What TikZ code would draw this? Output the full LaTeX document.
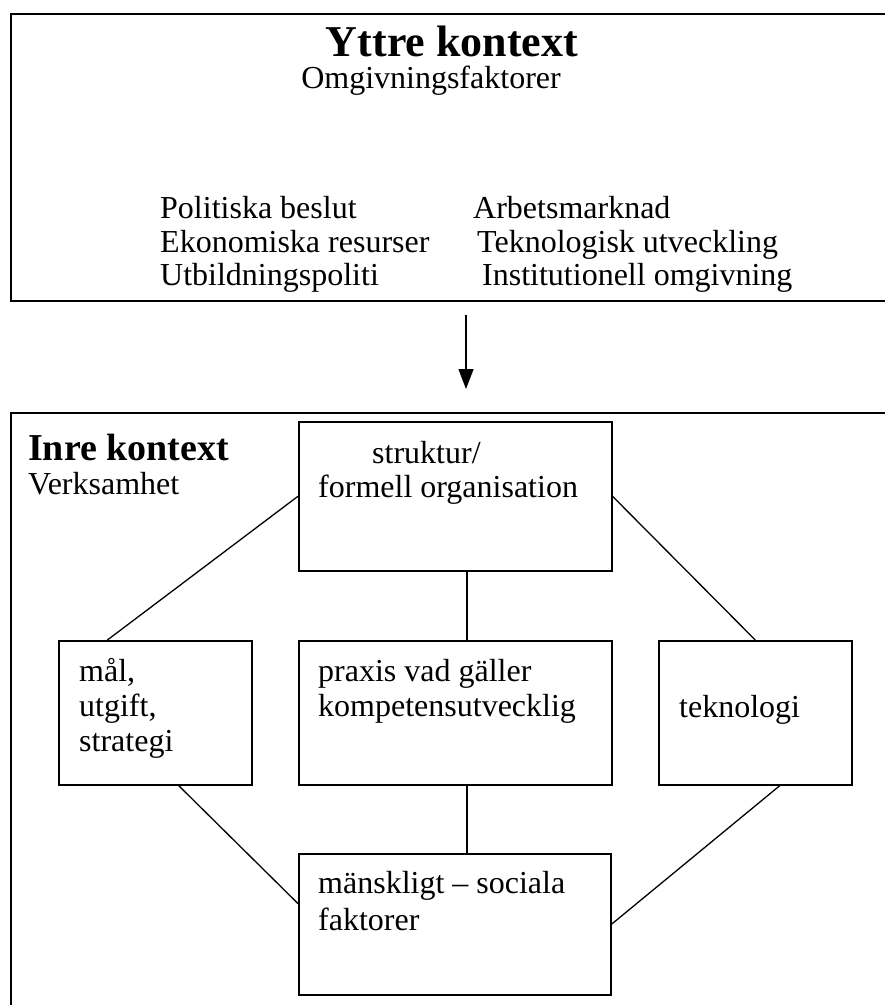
\documentclass[tikz,border=0pt]{standalone}
\usepackage{fontspec}
\setmainfont{Liberation Serif}
\usetikzlibrary{arrows.meta,calc}
\begin{document}
\begin{tikzpicture}[x=1pt,y=-1pt,
  box/.style={draw,line width=1.5pt,inner sep=0pt,anchor=north west},
  outer/.style={draw,line width=2pt,inner sep=0pt,anchor=north west},
  txt/.style={anchor=base west,inner sep=0pt,font=\fontsize{32}{36.8}\selectfont},
  link/.style={line width=1.3pt}]
\useasboundingbox (0,0) rectangle (885,1005);
\clip (0,0) rectangle (885,1005);
\fill[white] (0,0) rectangle (885,1005);
% outer boxes
\node[outer,line width=2.4pt,minimum width=900pt,minimum height=287pt] (ytt) at (10,13) {};
\node[outer,line width=1.8pt,minimum width=900pt,minimum height=620pt] (inre) at (10,412) {};
% top texts
\node[anchor=base,inner sep=0pt,font=\fontsize{44}{50}\selectfont\bfseries] (ytitle) at (452,56) {Yttre kontext};
\node[anchor=base,inner sep=0pt,font=\fontsize{32}{36.8}\selectfont] (ysub) at (431,88) {Omgivningsfaktorer};
\node[txt] (p1) at (160,218) {Politiska beslut};
\node[txt] (p2) at (160,252) {Ekonomiska resurser};
\node[txt] (p3) at (160,285) {Utbildningspoliti};
\node[txt] (q1) at (473,218) {Arbetsmarknad};
\node[txt] (q2) at (477,252) {Teknologisk utveckling};
\node[txt] (q3) at (482,285) {Institutionell omgivning};
% arrow
\coordinate (a1) at (466,315);
\coordinate (a2) at (466,389);
\draw[line width=1.4pt,-{Triangle[width=15pt,length=20pt]}] (a1) -- (a2);
% inner title
\node[anchor=base west,inner sep=0pt,font=\fontsize{38}{43}\selectfont\bfseries] (ititle) at (28,460) {Inre kontext};
\node[txt] (isub) at (28,494) {Verksamhet};
% inner boxes
\node[box,minimum width=313pt,minimum height=149pt] (struk) at (298,421) {};
\node[box,minimum width=193pt,minimum height=144pt] (mal) at (58,640) {};
\node[box,minimum width=313pt,minimum height=144pt] (praxis) at (298,640) {};
\node[box,minimum width=193pt,minimum height=144pt] (tekn) at (658,640) {};
\node[box,minimum width=312pt,minimum height=141pt] (mansk) at (298,853) {};
% box texts
\node[txt] (s1) at (372,463) {struktur/};
\node[txt] (s2) at (318,497) {formell organisation};
\node[txt] (m1) at (79,681) {mål,};
\node[txt] (m2) at (79,716) {utgift,};
\node[txt] (m3) at (79,751) {strategi};
\node[txt] (x1) at (318,681) {praxis vad gäller};
\node[txt] (x2) at (318,716) {kompetensutvecklig};
\node[txt] (t1) at (679,717) {teknologi};
\node[txt] (h1) at (318,893) {mänskligt – sociala};
\node[txt] (h2) at (318,930) {faktorer};
% connectors
\coordinate (mid) at (467,0);
\draw[link] ($(mal.north west)!0.254!(mal.north east)$) -- (struk.west);
\draw[link] (tekn.north) -- (struk.east);
\draw[link] ($(mal.south west)!0.62!(mal.south east)$) -- ($(mansk.north west)!0.355!(mansk.south west)$);
\draw[link] ($(tekn.south west)!0.627!(tekn.south east)$) -- (mansk.east);
\draw[link] (struk.south -| mid) -- (praxis.north -| mid);
\draw[link] (praxis.south -| mid) -- (mansk.north -| mid);
\end{tikzpicture}
\end{document}
